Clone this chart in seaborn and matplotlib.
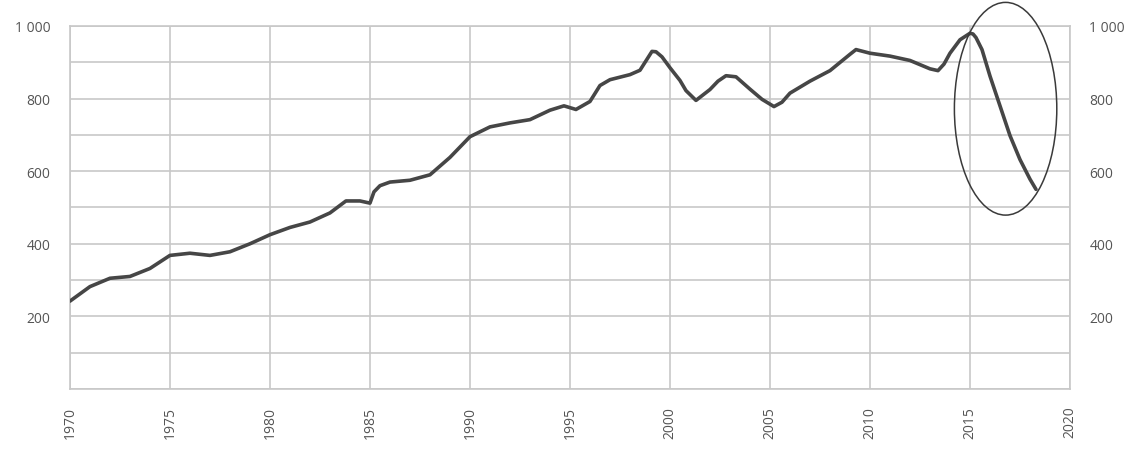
import matplotlib
matplotlib.use("Agg")
import matplotlib.pyplot as plt
from matplotlib.patches import Ellipse
import seaborn as sns

# Values
years = [1970, 1971, 1972, 1973, 1974, 1975, 1976, 1977, 1978, 1979,
         1980, 1981, 1982, 1983, 1983.8, 1984.5, 1985, 1985.2, 1985.5, 1986,
         1987, 1988, 1989, 1990, 1991, 1992, 1993, 1994, 1994.7, 1995.3,
         1996, 1996.5, 1997, 1998, 1998.5, 1999.1, 1999.3, 1999.6, 2000, 2000.5,
         2000.8, 2001.3, 2002, 2002.4, 2002.8, 2003.3, 2004, 2004.6, 2005.2, 2005.6,
         2006, 2007, 2008, 2009, 2009.3, 2010, 2011, 2012, 2013, 2013.4,
         2013.7, 2014, 2014.5, 2015, 2015.15, 2015.3, 2015.6, 2016, 2016.5, 2017,
         2017.5, 2018, 2018.3]
values = [242, 282, 305, 310, 332, 368, 374, 368, 378, 400,
          425, 445, 460, 485, 518, 518, 512, 543, 560, 570,
          575, 590, 638, 695, 722, 733, 742, 768, 780, 770,
          792, 836, 852, 866, 878, 930, 929, 915, 885, 850,
          822, 795, 825, 848, 863, 860, 826, 798, 778, 790,
          815, 848, 877, 922, 935, 925, 917, 905, 882, 877,
          895, 925, 962, 980, 978, 968, 935, 862, 780, 698,
          632, 578, 550]

x_ticks = [1970, 1975, 1980, 1985, 1990, 1995, 2000, 2005, 2010, 2015, 2020]
y_ticks = [0, 100, 200, 300, 400, 500, 600, 700, 800, 900, 1000]
y_labels = ["", "", "200", "", "400", "", "600", "", "800", "", "1 000"]

# highlighted region (ellipse), in data units
ell_center = (2016.78, 772)
ell_width = 5.12
ell_height = 586

sns.set_style("white")
plt.rcParams["font.family"] = ["Open Sans", "DejaVu Sans"]

fig = plt.figure(figsize=(11.3, 4.52), dpi=100)
ax = fig.add_axes([0.0619, 0.1372, 0.885, 0.8031])

grid_col = "#c8c8c8"
sns.lineplot(x=years, y=values, ax=ax, color="#464646", linewidth=2.6,
             sort=False, zorder=3)

ell = Ellipse(ell_center, ell_width, ell_height, fill=False,
              edgecolor="#3a3a3a", linewidth=1.1, clip_on=False, zorder=4)
ax.add_patch(ell)

ax.set_xlim(1970, 2020)
ax.set_ylim(0, 1000)
ax.set_xticks(x_ticks)
ax.set_xticklabels([str(t) for t in x_ticks], rotation=90)
ax.set_yticks(y_ticks)
ax.set_yticklabels(y_labels)
ax.grid(True, color=grid_col, linewidth=1.2)
ax.set_axisbelow(True)
for s in ax.spines.values():
    s.set_color(grid_col)
    s.set_linewidth(1.2)

ax.tick_params(axis="both", length=0, labelsize=10, labelcolor="#555555")
ax.tick_params(axis="y", labelright=True, pad=14)
ax.tick_params(axis="x", pad=12)
ax.set_xlabel("")
ax.set_ylabel("")

plt.savefig("out.png", dpi=100)
